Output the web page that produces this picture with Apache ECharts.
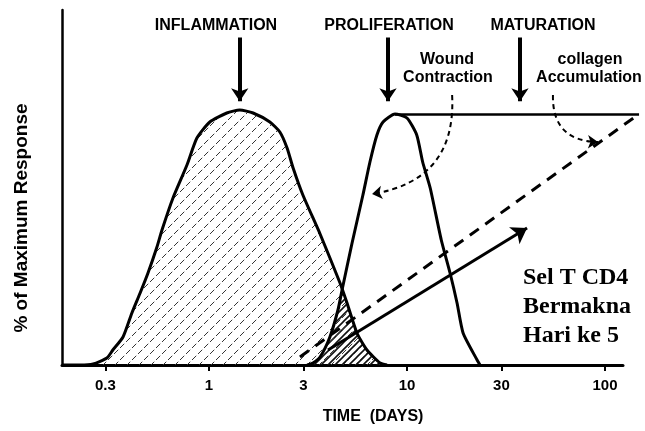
<!DOCTYPE html>
<html>
<head>
<meta charset="utf-8">
<script src="https://cdn.jsdelivr.net/npm/echarts@6.0.0/dist/echarts.min.js"></script>
<style>
  html, body { margin: 0; padding: 0; background: #fff; }
  #chart { width: 645px; height: 431px; }
</style>
</head>
<body>
<div id="chart"></div>
<script>
// x = time in days (drawn on a log scale), y = % of maximum response
const tickDays = [0.3, 1, 3, 10, 30, 100];
const tickLabels = ['0.3', '1', '3', '10', '30', '100'];

// inflammation curve (hatched)
const inflammation = [
  [0.181, 0], [0.223, 0], [0.26, 0.4], [0.305, 2.8], [0.327, 6], [0.368, 11.2],
  [0.408, 20.8], [0.449, 28.8], [0.492, 36.8], [0.546, 47.2], [0.579, 54],
  [0.658, 66.8], [0.774, 80], [0.869, 90.8], [1.01, 97.2], [1.23, 100.8],
  [1.43, 102], [1.67, 100.8], [2.03, 97.2], [2.28, 93.2], [2.48, 86.8],
  [2.66, 78.8], [2.98, 68], [3.64, 52.4], [4.59, 32.8], [4.98, 24.8],
  [5.59, 12.8], [6.28, 6], [7.31, 0.8], [7.93, 0]
];
// proliferation curve
const proliferation = [
  [3.13, 0], [3.35, 0.8], [3.64, 3.2], [4.08, 11.2], [4.48, 22], [4.7, 30],
  [5.28, 48.8], [5.99, 68], [6.5, 81.2], [7.05, 92], [7.57, 97.2], [8.7, 100.4],
  [10, 98.8], [11.2, 92], [12, 81.2], [13.1, 70.8], [14.9, 50], [16.5, 36.8],
  [17.9, 24.8], [19.2, 12.8], [22.6, 2], [23.4, 0]
];
// region where both curves overlap (dense hatch)
const overlap = [
  [3.13, 0], [3.35, 0.8], [3.64, 3.2], [4.08, 11.2], [4.48, 22], [4.7, 30],
  [4.98, 24.8], [5.59, 12.8], [6.28, 6], [7.31, 0.8], [7.93, 0]
];
// maturation plateau and the collagen trend
const plateau = [[8.7, 100.4], [148.6, 100.4]];
const collagenTrend = [[2.88, 3.2], [148.6, 100.4]];
// "Sel T CD4" arrow
const cd4Arrow = [[3.99, 6], [40.4, 54.8]];
// phase arrows: day of each phase, arrow from/to %
const phaseNames = ['INFLAMMATION', 'PROLIFERATION', 'MATURATION'];
const phaseDays = [1.43, 8.02, 37.2];
const phaseArrowFrom = 131;
const phaseArrowTo = 105.5;
// curved dashed annotations
const woundArrow = [[16.9, 108], [6.66, 68.4]];
const collagenArrow = [[54.6, 108], [92.2, 89.2]];

const lx = d => Math.log10(d);
const toXY = arr => arr.map(p => [lx(p[0]), p[1]]);

function hatch(size, dash, width, color) {
  const c = document.createElement('canvas');
  c.width = c.height = size;
  const ctx = c.getContext('2d');
  ctx.strokeStyle = color;
  ctx.lineWidth = width;
  if (dash) ctx.setLineDash(dash);
  ctx.beginPath();
  ctx.moveTo(0, size); ctx.lineTo(size, 0);
  ctx.moveTo(-2, 2); ctx.lineTo(2, -2);
  ctx.moveTo(size - 2, size + 2); ctx.lineTo(size + 2, size - 2);
  ctx.stroke();
  return c;
}

const chart = echarts.init(document.getElementById('chart'));
const bold = 'bold 16px "Liberation Sans", Arial, sans-serif';
const txt = (text, x, y, font, rotation) => ({
  type: 'text', x: x, y: y, rotation: rotation || 0, silent: true,
  style: { text: text, font: font || bold, fill: '#000',
    align: 'center', verticalAlign: 'middle', textAlign: 'center', textVerticalAlign: 'middle' }
});

chart.setOption({
  animation: false,
  backgroundColor: '#fff',
  grid: { left: 62, right: 22, top: 10, bottom: 66 },
  xAxis: {
    type: 'value',
    min: lx(0.181),
    max: lx(123.3),
    axisLine: { onZero: false, lineStyle: { color: '#000', width: 3 } },
    axisTick: { customValues: tickDays.map(lx), length: 6, lineStyle: { color: '#000', width: 2 } },
    axisLabel: {
      customValues: tickDays.map(lx),
      formatter: v => {
        const i = tickDays.findIndex(d => Math.abs(lx(d) - v) < 1e-6);
        return i >= 0 ? tickLabels[i] : '';
      },
      color: '#000', fontWeight: 'bold', fontSize: 15, margin: 13,
      fontFamily: '"Liberation Sans", Arial, sans-serif'
    },
    splitLine: { show: false }
  },
  yAxis: {
    type: 'value',
    min: 0,
    max: 142,
    axisLine: { show: true, onZero: false, lineStyle: { color: '#000', width: 2.5 } },
    axisTick: { show: false },
    axisLabel: { show: false },
    splitLine: { show: false }
  },
  series: [
    {
      name: 'Inflammation', type: 'line', data: toXY(inflammation),
      smooth: 0.2, showSymbol: false, z: 3,
      lineStyle: { color: '#000', width: 3 },
      areaStyle: { color: { image: hatch(12, [6, 2.5], 1, '#333'), repeat: 'repeat' }, opacity: 1 }
    },
    {
      name: 'Overlap', type: 'line', data: toXY(overlap),
      smooth: 0.2, showSymbol: false, z: 2,
      lineStyle: { width: 0 },
      areaStyle: { color: { image: hatch(7, null, 1.6, '#111'), repeat: 'repeat' }, opacity: 1 }
    },
    {
      name: 'Proliferation', type: 'line', data: toXY(proliferation),
      smooth: 0.2, showSymbol: false, z: 4,
      lineStyle: { color: '#000', width: 3 }
    },
    {
      // plateau and collagen trend run a little past the end of the axis
      name: 'Maturation', type: 'lines', coordinateSystem: 'cartesian2d', clip: false, z: 4,
      symbol: 'none',
      lineStyle: { color: '#000', width: 2.5, opacity: 1 },
      data: [
        { coords: toXY(plateau) },
        { coords: toXY(collagenTrend), lineStyle: { width: 3, type: [11, 8] } }
      ]
    },
    {
      name: 'Arrows', type: 'lines', coordinateSystem: 'cartesian2d', z: 5,
      symbol: ['none', 'arrow'], symbolSize: 13,
      lineStyle: { color: '#000', width: 4, opacity: 1 },
      data: phaseDays.map(d => ({ coords: [[lx(d), phaseArrowFrom], [lx(d), phaseArrowTo]] }))
        .concat([{ coords: toXY(cd4Arrow), lineStyle: { width: 3 }, symbolSize: 15 }])
    },
    {
      name: 'Curved', type: 'lines', coordinateSystem: 'cartesian2d', z: 5,
      symbol: ['none', 'arrow'], symbolSize: 10,
      lineStyle: { color: '#000', width: 2, opacity: 1, type: [5, 4] },
      data: [
        { coords: toXY(woundArrow), lineStyle: { curveness: 0.45 } },
        { coords: toXY(collagenArrow), lineStyle: { curveness: -0.5 } }
      ]
    }
  ],
  graphic: [
    txt(phaseNames[0], 216, 26),
    txt(phaseNames[1], 389, 26),
    txt(phaseNames[2], 543, 26),
    txt('Wound', 447, 60),
    txt('Contraction', 448, 78),
    txt('collagen', 590, 60),
    txt('Accumulation', 589, 78),
    txt('TIME  (DAYS)', 373, 417),
    txt('% of Maximum Response', 22, 218, 'bold 19px "Liberation Sans", Arial, sans-serif', Math.PI / 2),
    {
      type: 'text', x: 523, y: 307, silent: true,
      style: {
        text: 'Sel T CD4\nBermakna\nHari ke 5',
        font: 'bold 24px "Liberation Serif", "Times New Roman", serif',
        lineHeight: 29, fill: '#000',
        align: 'left', verticalAlign: 'middle', textAlign: 'left', textVerticalAlign: 'middle'
      }
    }
  ]
});
</script>
</body>
</html>
